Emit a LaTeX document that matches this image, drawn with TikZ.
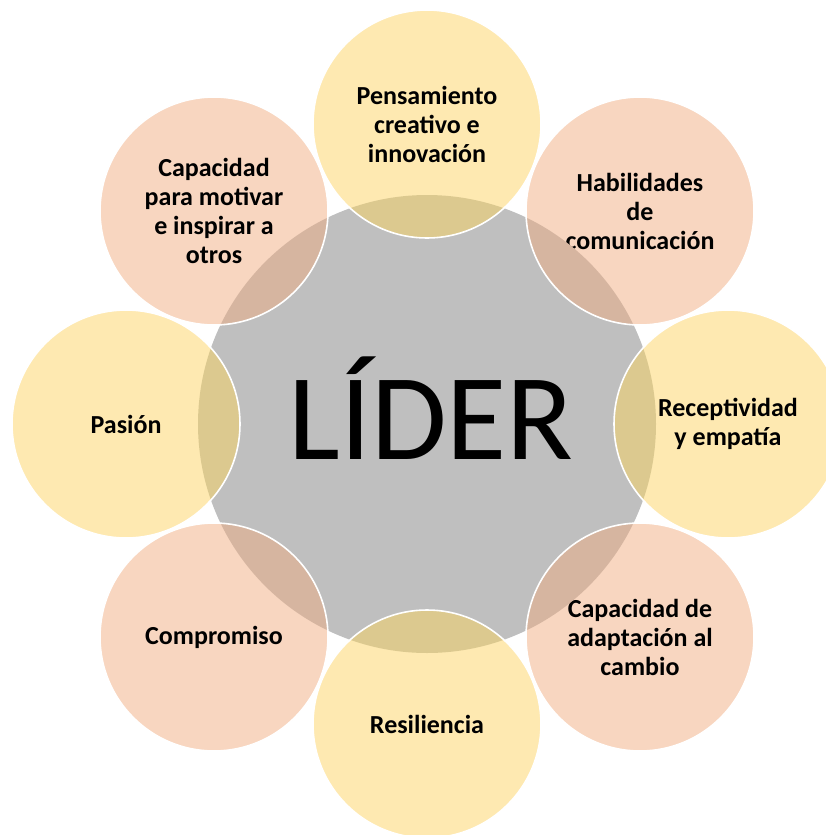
\documentclass[tikz,border=0pt]{standalone}
\usepackage{fontspec}
\setmainfont{Carlito}
\definecolor{hubgray}{HTML}{BFBFBF}
\definecolor{satyellow}{HTML}{FEE9B1}
\definecolor{satyellowdark}{HTML}{DCC98F}
\definecolor{satpeach}{HTML}{F8D6C0}
\definecolor{satpeachdark}{HTML}{D6B5A0}
\tikzset{
  hub/.style={circle, fill=hubgray, minimum size=458pt, inner sep=0pt},
  sat/.style={circle, minimum size=228pt, inner sep=0pt, align=center,
    font=\fontsize{26}{29}\selectfont\bfseries, text=black},
  ring/.style={draw=white, line width=1.6pt},
  hubtext/.style={font=\fontsize{123}{123}\selectfont, text=black, inner sep=0pt, anchor=base}
}
\begin{document}
\begin{tikzpicture}[x=1pt,y=-1pt]
\useasboundingbox (0,0) rectangle (826,835);
\clip (0,0) rectangle (826,835);

% central circle
\node[hub] (hubc) at (427,424) {};

% the eight surrounding qualities
\node[sat, fill=satyellow] (pens) at (427,124) {Pensamiento\\creativo e\\innovación};
\node[sat, fill=satpeach]  (hab)  at (640,211) {Habilidades\\de\\comunicación};
\node[sat, fill=satyellow] (rec)  at (728,424) {Receptividad\\y empatía};
\node[sat, fill=satpeach]  (adap) at (640,637) {Capacidad de\\adaptación al\\cambio};
\node[sat, fill=satyellow] (res)  at (427,724) {Resiliencia};
\node[sat, fill=satpeach]  (comp) at (214,637) {Compromiso};
\node[sat, fill=satyellow] (pas)  at (126,424) {Pasión};
\node[sat, fill=satpeach]  (mot)  at (214,211) {Capacidad\\para motivar\\e inspirar a\\otros};

% darker tint where each circle covers the central one
\begin{scope}
  \clip (hubc.center) circle[radius=229pt];
  \foreach \n/\c in {pens/satyellowdark, rec/satyellowdark, res/satyellowdark, pas/satyellowdark,
                     hab/satpeachdark, adap/satpeachdark, comp/satpeachdark, mot/satpeachdark}
    \fill[\c] (\n.center) circle[radius=114pt];
\end{scope}

% white rims on top
\foreach \n in {pens,hab,rec,adap,res,comp,pas,mot}
  \draw[ring] (\n.center) circle[radius=114pt];

\node[hubtext] (lider) at (431,459) {LÍDER};
\end{tikzpicture}
\end{document}
